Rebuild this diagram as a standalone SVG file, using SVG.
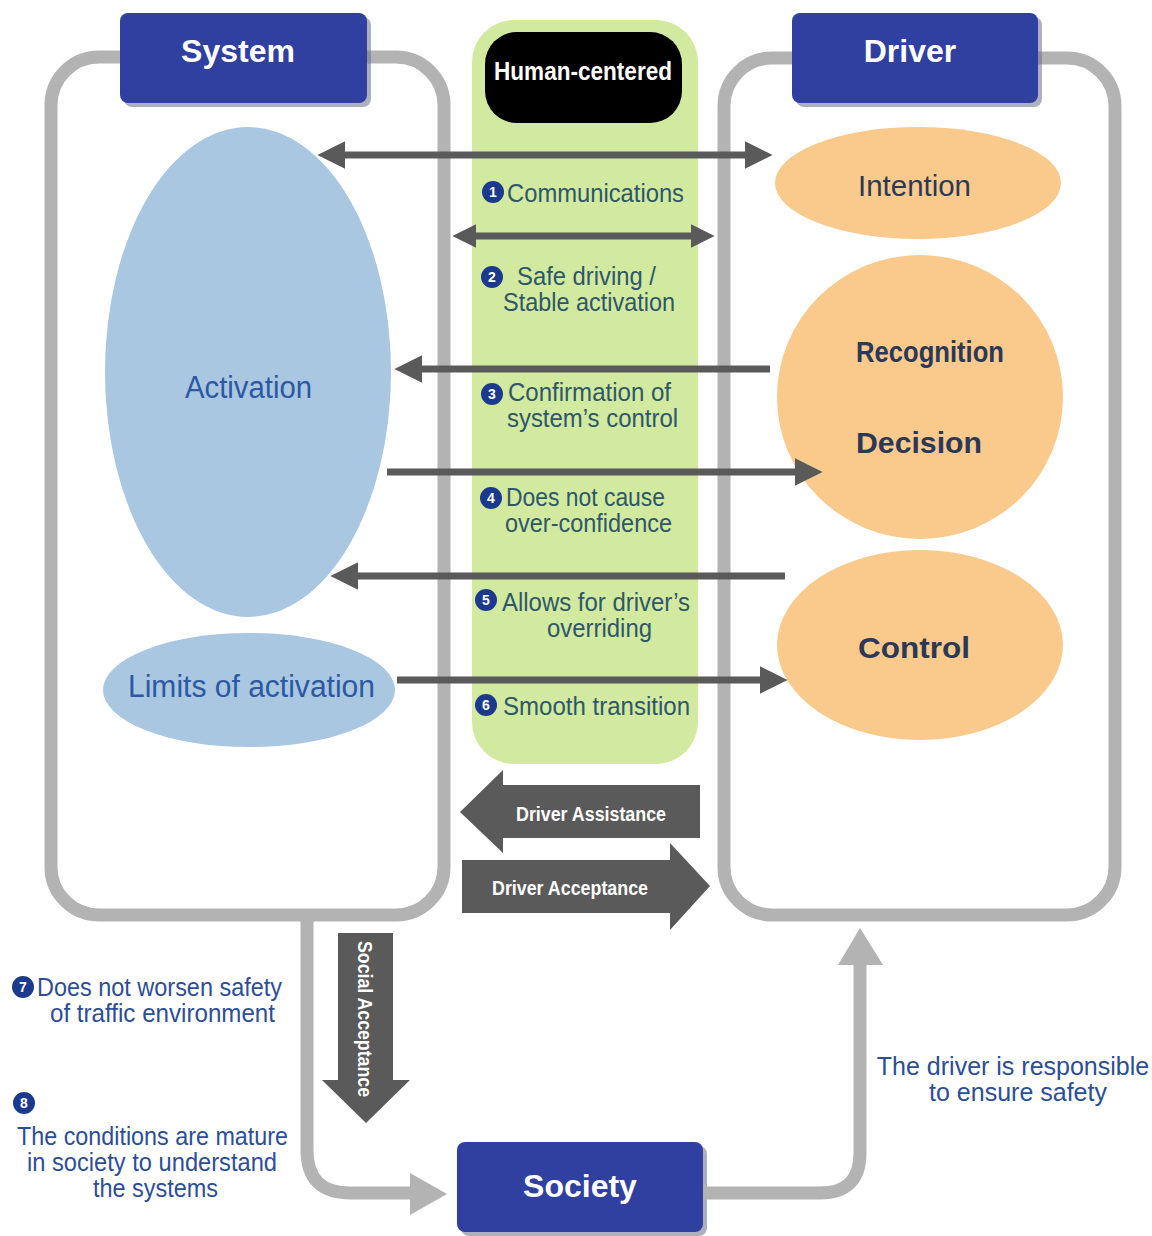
<svg xmlns="http://www.w3.org/2000/svg" width="1152" height="1236" viewBox="0 0 1152 1236">
<defs>
<style>
.frame{fill:none;stroke:#b3b3b3;stroke-width:13}
.hdr{fill:#2f40a0}
.hdrsh{fill:#6a6f8a;opacity:0.55}
.hdrtxt{font-family:"Liberation Sans",Arial,sans-serif;font-weight:bold;fill:#ffffff;text-anchor:middle}
.lbl{font-family:"Liberation Sans",Arial,sans-serif;font-size:25px;fill:#2e5768}
.out{font-family:"Liberation Sans",Arial,sans-serif;font-size:25px;fill:#2d4e96}
.blue{font-family:"Liberation Sans",Arial,sans-serif;font-size:31px;fill:#2d58a2}
.orng{font-family:"Liberation Sans",Arial,sans-serif;font-size:30px;fill:#2b3857}
.num{fill:#1b3a8e}
.numtxt{font-family:"Liberation Sans",Arial,sans-serif;font-size:14px;font-weight:bold;fill:#ffffff;text-anchor:middle}
.conn{stroke:#5a5a5a;stroke-width:7;fill:none}
.big{fill:#5a5a5a}
.bigtxt{font-family:"Liberation Sans",Arial,sans-serif;font-weight:bold;font-size:20px;fill:#ffffff}
.gline{fill:none;stroke:#b3b3b3;stroke-width:13}
.ghead{fill:#b3b3b3}
</style>
<marker id="ah" viewBox="0 0 10 10" refX="3" refY="5" markerWidth="4" markerHeight="4" orient="auto-start-reverse" markerUnits="strokeWidth">
<path d="M0,0 L10,5 L0,10 Z" fill="#5a5a5a"/>
</marker>
<marker id="ahs" viewBox="0 0 10 10" refX="3" refY="5" markerWidth="3.4" markerHeight="3.4" orient="auto-start-reverse" markerUnits="strokeWidth">
<path d="M0,0 L10,5 L0,10 Z" fill="#5a5a5a"/>
</marker>
</defs>
<rect width="1152" height="1236" fill="#ffffff"/>

<g id="green-column">
<rect x="472" y="20" width="226" height="744" rx="42" fill="#d2e9a0"/>
</g>

<g id="system">
<rect class="frame" x="51" y="57" width="393" height="858" rx="48"/>
<rect class="hdrsh" x="124" y="17" width="247" height="90" rx="8"/>
<rect class="hdr" x="120" y="13" width="247" height="90" rx="8"/>
<text class="hdrtxt" x="238" y="62" font-size="32">System</text>
</g>

<g id="driver">
<rect class="frame" x="724" y="58" width="391" height="857" rx="48"/>
<rect class="hdrsh" x="796" y="17" width="246" height="90" rx="8"/>
<rect class="hdr" x="792" y="13" width="246" height="90" rx="8"/>
<text class="hdrtxt" x="910" y="62" font-size="32">Driver</text>
</g>

<g id="human-centered">
<rect x="485" y="32" width="197" height="91" rx="32" fill="#000000"/>
<text x="583" y="80" font-family="'Liberation Sans',Arial,sans-serif" font-weight="bold" font-size="25" fill="#ffffff" text-anchor="middle" textLength="178" lengthAdjust="spacingAndGlyphs">Human-centered</text>
</g>

<g id="activation">
<ellipse cx="248" cy="372" rx="143" ry="245" fill="#a9c7e1"/>
<text class="blue" x="185" y="398" textLength="127" lengthAdjust="spacingAndGlyphs">Activation</text>
</g>

<g id="limits">
<ellipse cx="249" cy="690" rx="146" ry="57" fill="#a9c7e1"/>
<text class="blue" x="128" y="697" textLength="247" lengthAdjust="spacingAndGlyphs">Limits of activation</text>
</g>

<g id="intention">
<ellipse cx="918" cy="183" rx="143" ry="56" fill="#fac98c"/>
<text class="orng" x="858" y="196" textLength="113" lengthAdjust="spacingAndGlyphs">Intention</text>
</g>

<g id="recognition-decision">
<ellipse cx="920" cy="397" rx="143" ry="142" fill="#fac98c"/>
<text class="orng" x="856" y="362" font-weight="bold" textLength="148" lengthAdjust="spacingAndGlyphs">Recognition</text>
<text class="orng" x="856" y="453" font-weight="bold" textLength="126" lengthAdjust="spacingAndGlyphs">Decision</text>
</g>

<g id="control">
<ellipse cx="920" cy="645" rx="143" ry="95" fill="#fac98c"/>
<text class="orng" x="858" y="658" font-weight="bold" textLength="112" lengthAdjust="spacingAndGlyphs">Control</text>
</g>

<g id="society">
<rect class="hdrsh" x="461" y="1146" width="246" height="90" rx="8"/>
<rect class="hdr" x="457" y="1142" width="246" height="90" rx="8"/>
<text class="hdrtxt" x="580" y="1197" font-size="32">Society</text>
</g>

<g id="connectors">
<line class="conn" x1="337" y1="155" x2="753" y2="155" marker-start="url(#ah)" marker-end="url(#ah)"/>
<line class="conn" x1="469" y1="236" x2="698" y2="236" marker-start="url(#ahs)" marker-end="url(#ahs)"/>
<line class="conn" x1="770" y1="369" x2="414" y2="369" marker-end="url(#ah)"/>
<line class="conn" x1="387" y1="472" x2="803" y2="472" marker-end="url(#ah)"/>
<line class="conn" x1="785" y1="576" x2="350" y2="576" marker-end="url(#ah)"/>
<line class="conn" x1="397" y1="680" x2="768" y2="680" marker-end="url(#ah)"/>

<path class="big" d="M460,812 L503,770 L503,785 L700,785 L700,838 L503,838 L503,853 Z"/>
<text class="bigtxt" x="516" y="821" textLength="150" lengthAdjust="spacingAndGlyphs">Driver Assistance</text>
<path class="big" d="M462,860 L670,860 L670,843 L710,886 L670,930 L670,913 L462,913 Z"/>
<text class="bigtxt" x="492" y="895" textLength="156" lengthAdjust="spacingAndGlyphs">Driver Acceptance</text>

<path class="big" d="M338,933 L393,933 L393,1080 L410,1080 L366,1123 L322,1080 L338,1080 Z"/>
<text class="bigtxt" transform="translate(358,941) rotate(90)" textLength="156" lengthAdjust="spacingAndGlyphs">Social Acceptance</text>

<path class="gline" d="M307,915 L307,1150 Q307,1193 350,1193 L412,1193"/>
<path class="ghead" d="M410,1173 L447,1194 L410,1215 Z"/>
<path class="gline" d="M703,1193 L820,1193 Q860,1193 860,1153 L860,963"/>
<path class="ghead" d="M838,965 L860,928 L883,965 Z"/>
</g>

<g id="labels">
<circle class="num" cx="493" cy="192" r="11"/><text class="numtxt" x="493" y="197">1</text>
<text class="lbl" x="507" y="202" textLength="177" lengthAdjust="spacingAndGlyphs">Communications</text>

<circle class="num" cx="492" cy="277" r="11"/><text class="numtxt" x="492" y="282">2</text>
<text class="lbl" x="517" y="285" textLength="139" lengthAdjust="spacingAndGlyphs">Safe driving /</text>
<text class="lbl" x="503" y="311" textLength="172" lengthAdjust="spacingAndGlyphs">Stable activation</text>

<circle class="num" cx="492" cy="394" r="11"/><text class="numtxt" x="492" y="399">3</text>
<text class="lbl" x="508" y="401" textLength="163" lengthAdjust="spacingAndGlyphs">Confirmation of</text>
<text class="lbl" x="507" y="427" textLength="171" lengthAdjust="spacingAndGlyphs">system’s control</text>

<circle class="num" cx="491" cy="498" r="11"/><text class="numtxt" x="491" y="503">4</text>
<text class="lbl" x="506" y="506" textLength="159" lengthAdjust="spacingAndGlyphs">Does not cause</text>
<text class="lbl" x="505" y="532" textLength="167" lengthAdjust="spacingAndGlyphs">over-confidence</text>

<circle class="num" cx="486" cy="600" r="11"/><text class="numtxt" x="486" y="605">5</text>
<text class="lbl" x="502" y="611" textLength="188" lengthAdjust="spacingAndGlyphs">Allows for driver’s</text>
<text class="lbl" x="547" y="637" textLength="105" lengthAdjust="spacingAndGlyphs">overriding</text>

<circle class="num" cx="486" cy="705" r="11"/><text class="numtxt" x="486" y="710">6</text>
<text class="lbl" x="503" y="715" textLength="187" lengthAdjust="spacingAndGlyphs">Smooth transition</text>

<circle class="num" cx="23" cy="987" r="11"/><text class="numtxt" x="23" y="992">7</text>
<text class="out" x="37" y="996" textLength="245" lengthAdjust="spacingAndGlyphs">Does not worsen safety</text>
<text class="out" x="50" y="1022" textLength="225" lengthAdjust="spacingAndGlyphs">of traffic environment</text>

<circle class="num" cx="24" cy="1103" r="11"/><text class="numtxt" x="24" y="1108">8</text>
<text class="out" x="17" y="1145" textLength="271" lengthAdjust="spacingAndGlyphs">The conditions are mature</text>
<text class="out" x="27" y="1171" textLength="250" lengthAdjust="spacingAndGlyphs">in society to understand</text>
<text class="out" x="93" y="1197" textLength="125" lengthAdjust="spacingAndGlyphs">the systems</text>

<text class="out" x="1013" y="1075" font-size="22" text-anchor="middle">The driver is responsible</text>
<text class="out" x="1018" y="1101" font-size="22" text-anchor="middle">to ensure safety</text>
</g>
</svg>
